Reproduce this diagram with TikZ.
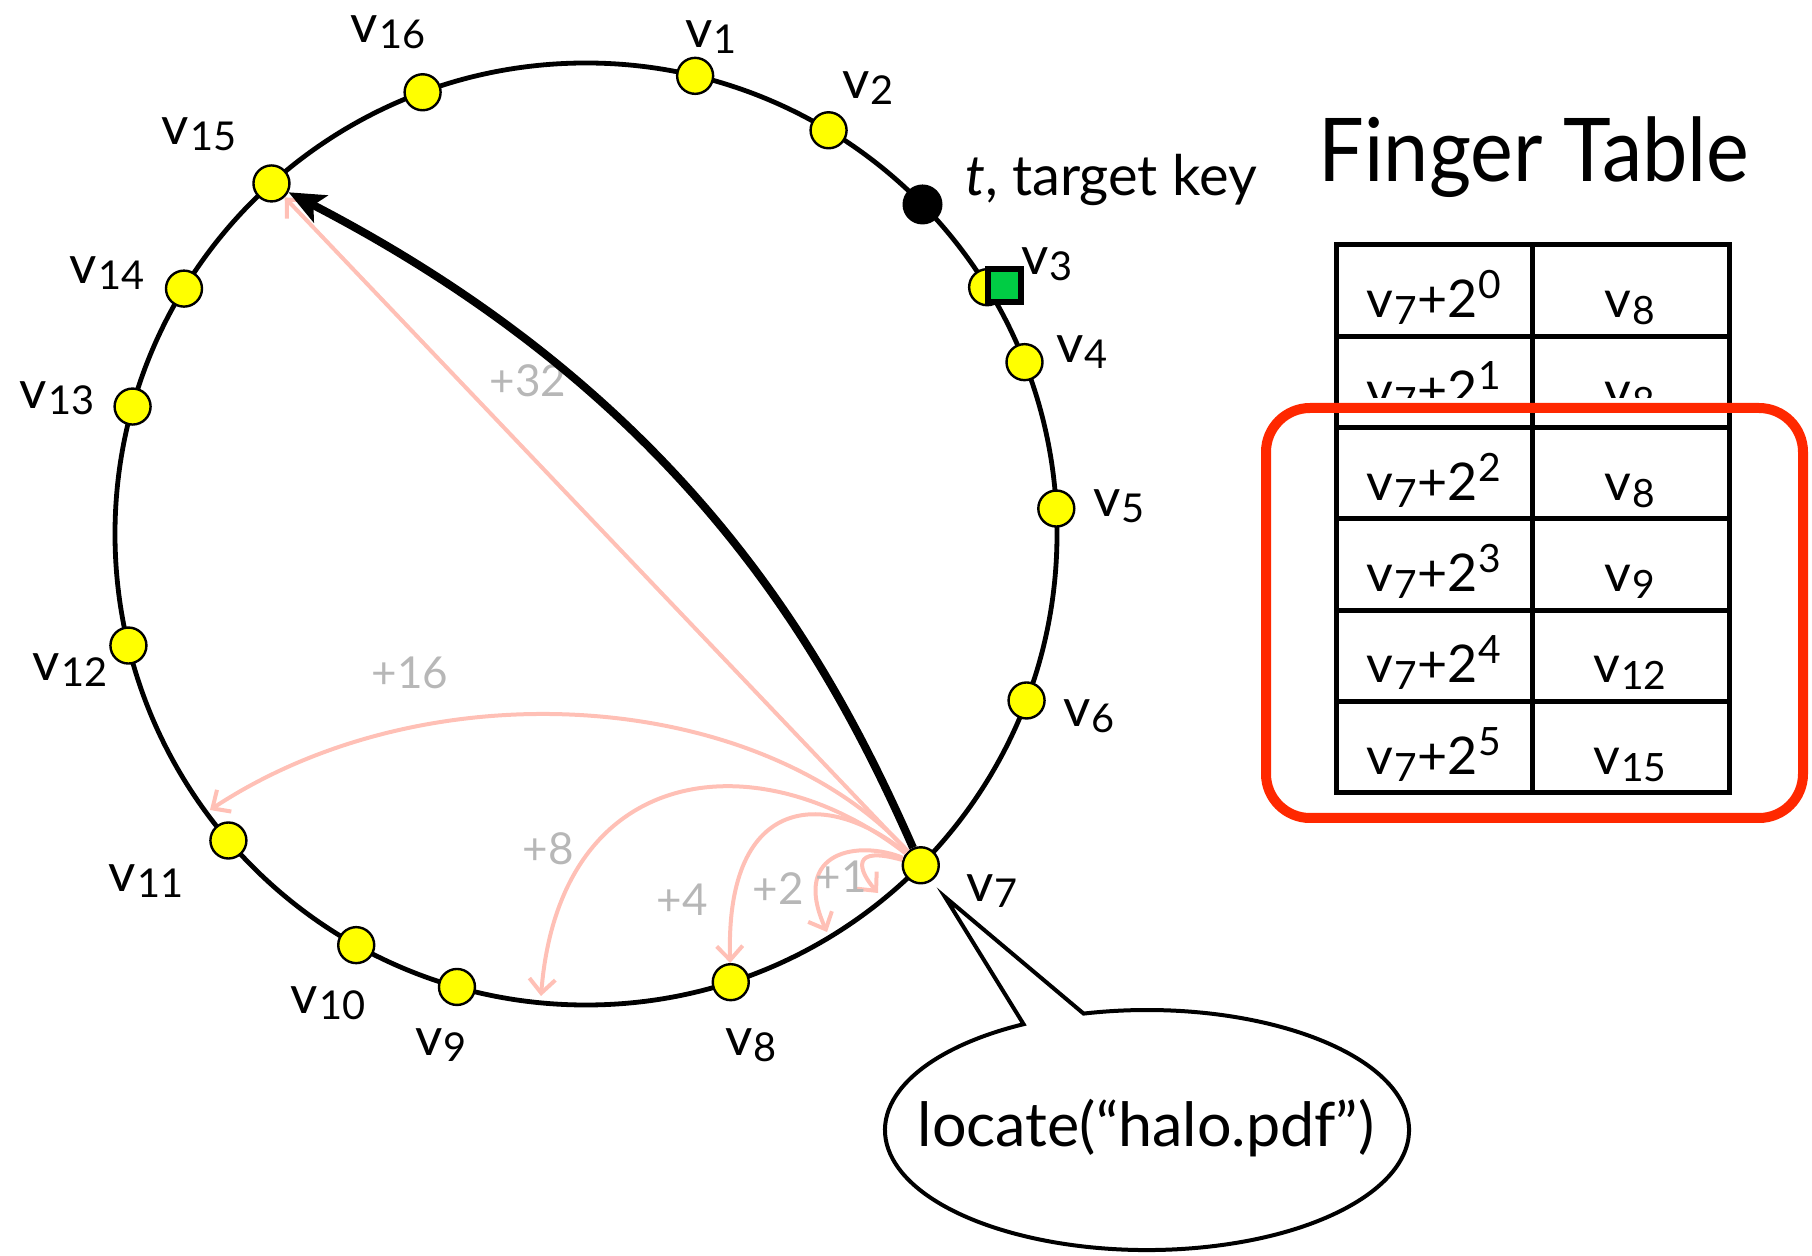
\documentclass[tikz,border=0pt]{standalone}
\usepackage{fontspec}
\setmainfont{Lato}
\usetikzlibrary{calc,arrows.meta}
\definecolor{nodeyellow}{RGB}{255,255,0}
\definecolor{tgreen}{RGB}{0,204,68}
\definecolor{fpink}{RGB}{255,192,182}
\definecolor{lgray}{RGB}{183,183,183}
\definecolor{boxred}{RGB}{255,40,0}
\newcommand\vl[1]{v\kern0.02em\raisebox{-0.12em}{\scalebox{0.75}{#1}}}
\newcommand\supx[1]{\kern0.03em\raisebox{0.38em}{\scalebox{0.75}{#1}}}
\begin{document}
\begin{tikzpicture}[x=0.5pt,y=-0.5pt,
  ring/.style={line width=2.4pt},
  peer/.style={circle,draw,line width=1.2pt,fill=nodeyellow,minimum size=18pt,inner sep=0pt},
  lbl/.style={font=\fontsize{26.5}{30}\selectfont,inner sep=0pt},
  finger/.style={draw=fpink,line width=2pt,-{Straight Barb[length=7pt,width=13pt,line width=2pt]}},
  plus/.style={text=lgray,font=\fontsize{22}{26}\selectfont,inner sep=0pt},
  cell/.style={font=\fontsize{26}{30}\selectfont,anchor=base,inner sep=0pt},
  grid/.style={line width=2.5pt},
]
\useasboundingbox (0,0) rectangle (1812,1256);
\coordinate (C) at (586,534);
% ring
\draw[ring] (C) circle (471);
% peers
\foreach \n/\a in {1/-76.6,2/-59.0,3/-31.6,4/-21.4,5/-3.1,6/20.7,7/44.7,8/72.1,9/105.9,10/119.2,11/139.4,12/166.3,13/195.7,14/211.4,15/228.1,16/249.7}
  \node[peer] (v\n) at ($(C)+(\a:471)$) {};
\node[circle,fill=black,minimum size=20pt,inner sep=0pt] (t) at ($(C)+(-44.4:471)$) {};
\node[draw,line width=3pt,fill=tgreen,minimum size=16.5pt,inner sep=0pt] (sq) at (1004,286) {};
% labels
\foreach \n/\x/\y in {1/711/37,2/868/88,3/1047/264,4/1082/352,5/1119/506,6/1089/716,7/992/891,8/751/1045,9/441/1045,10/328/1003,11/146/881,12/70/670,13/57/398,14/107/273,15/199/134,16/388/32}
  \node[lbl] (l\n) at (\x,\y) {\vl{\n}};
\node[font=\fontsize{28}{32}\selectfont,inner sep=0pt] (tlab) at (1111,180) {\textit{t}, target key};
% finger arrows
\coordinate (e16) at (210,810);
\coordinate (e8) at (541,996);
\coordinate (e2) at (827,932);
\coordinate (e1) at (878,893);
\draw[finger] (v7) -- (v15);
\draw[finger] (v7) .. controls (760,690) and (430,665) .. (e16);
\draw[finger] (v7) .. controls (760,740) and (560,760) .. (e8);
\draw[finger] (v7) .. controls (830,790) and (725,790) .. (v8);
\draw[finger] (v7) .. controls (860,840) and (790,850) .. (e2);
\draw[finger] (v7) .. controls (850,845) and (858,870) .. (e1);
\node[plus] (p32) at (528,381) {+32};
\node[plus] (p16) at (410,673) {+16};
\node[plus] (p8) at (548,849) {+8};
\node[plus] (p4) at (682,900) {+4};
\node[plus] (p2) at (778,889) {+2};
\node[plus] (p1) at (841,877) {+1};
% lookup arrow
\draw[line width=4pt,-{Stealth[length=18pt,width=15pt,inset=4pt]}] (v7) .. controls (830,660) and (690,400) .. (v15);
% callout
\draw[line width=2pt,fill=white] (945,897) -- (1083.6,1013.6) arc[start angle=-104,end angle=241.9,x radius=262,y radius=120] -- cycle;
\node[font=\fontsize{30.5}{34}\selectfont,inner sep=0pt] (loc) at (1146,1128) {locate(“halo.pdf”)};
% finger table
\node[font=\fontsize{44}{50}\selectfont,anchor=base,inner sep=0pt] (title) at (1534,182) {\scalebox{0.92}[1]{Finger Table}};
\node[cell] (r0a) at (1434,318) {\vl{7}+2\supx{0}};
\node[cell] (r0b) at (1630,318) {\vl{8}};
\node[cell] (r1a) at (1434,409) {\vl{7}+2\supx{1}};
\node[cell] (r1b) at (1630,409) {\vl{8}};
\node[cell] (r2a) at (1434,501) {\vl{7}+2\supx{2}};
\node[cell] (r2b) at (1630,501) {\vl{8}};
\node[cell] (r3a) at (1434,592) {\vl{7}+2\supx{3}};
\node[cell] (r3b) at (1630,592) {\vl{9}};
\node[cell] (r4a) at (1434,683) {\vl{7}+2\supx{4}};
\node[cell] (r4b) at (1630,683) {\vl{12}};
\node[cell] (r5a) at (1434,775) {\vl{7}+2\supx{5}};
\node[cell] (r5b) at (1630,775) {\vl{15}};
\fill[white] (1338,398) rectangle (1727,426);
\draw[grid] (1336,245) rectangle (1729,793);
\draw[grid] (1532,245) -- (1532,793);
\foreach \y in {336.3,427.6,518.9,610.2,701.4}
  \draw[grid] (1336,\y) -- (1729,\y);
\draw[boxred,line width=5pt,rounded corners=22pt] (1266,408) rectangle (1803,818);
\end{tikzpicture}
\end{document}
